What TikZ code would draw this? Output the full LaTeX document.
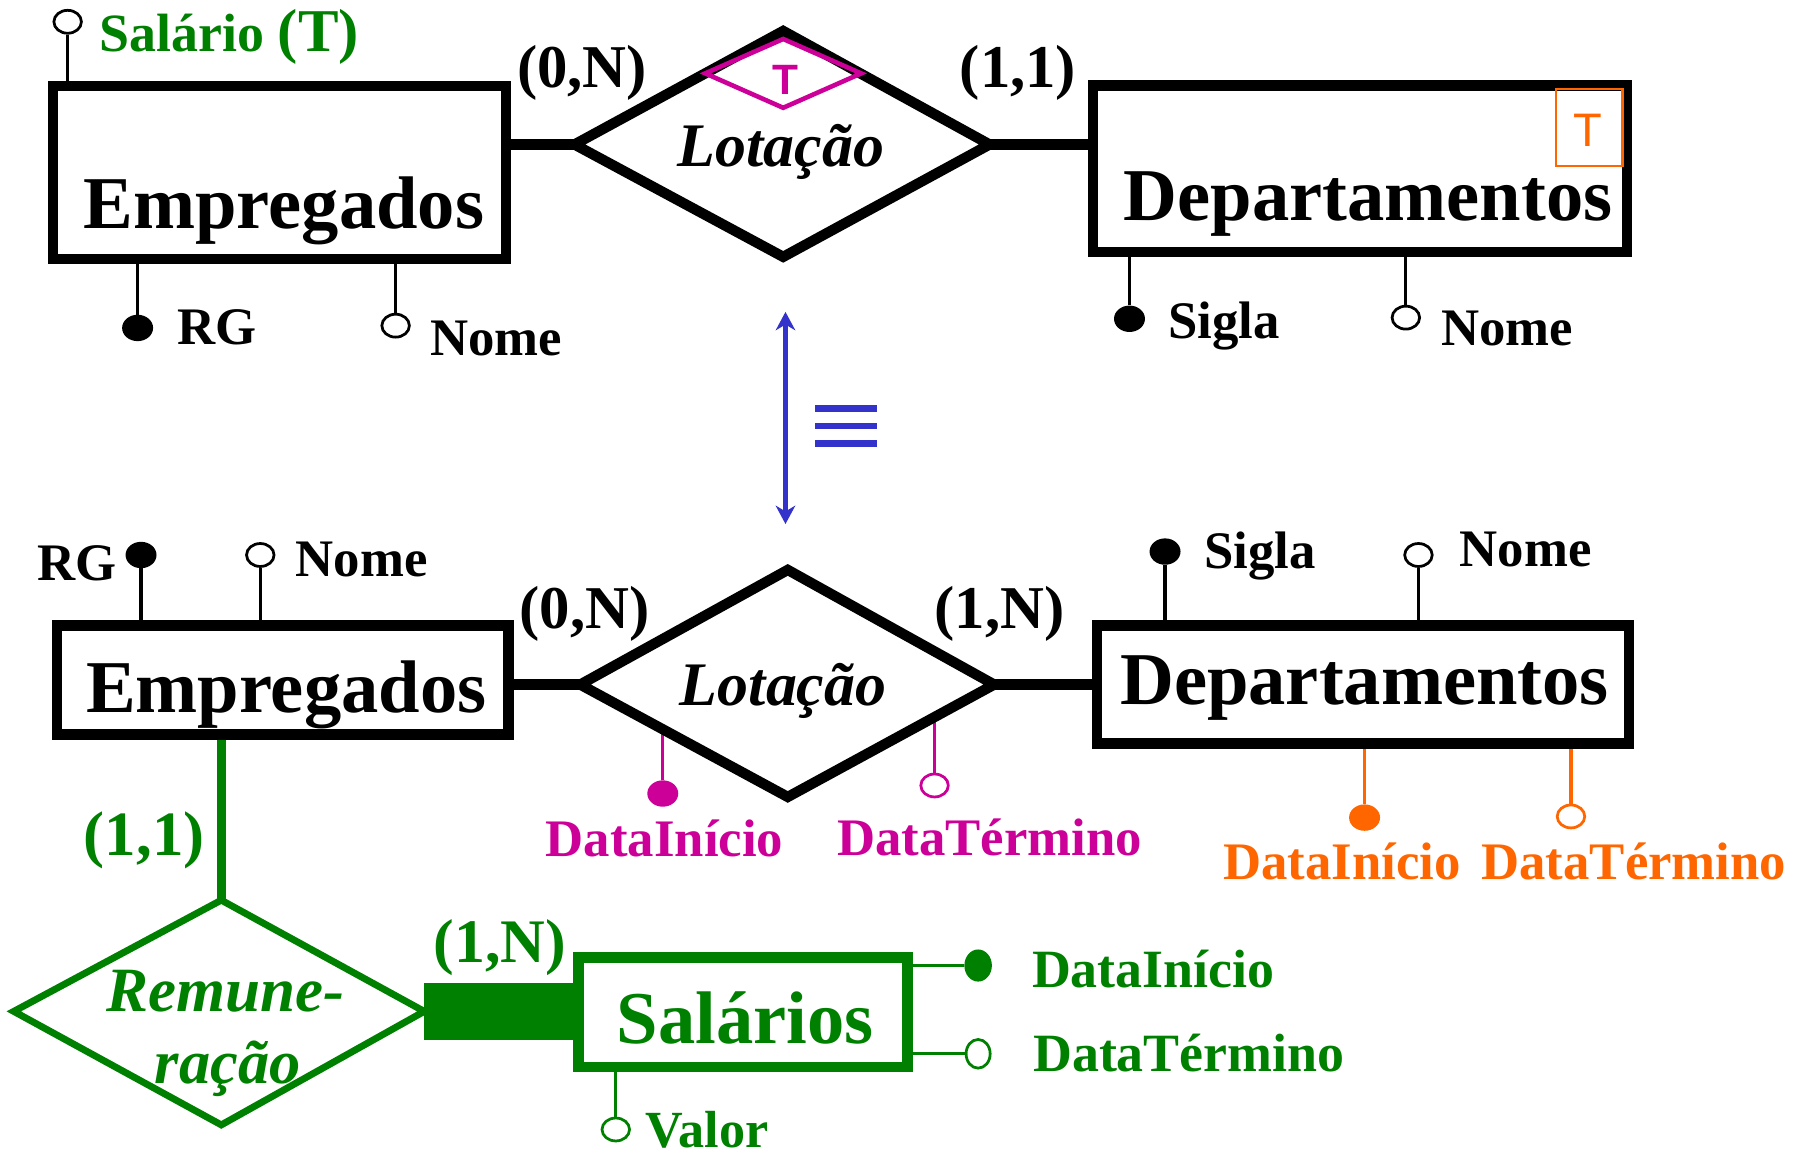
\documentclass[tikz,border=0pt]{standalone}
\usepackage{fontspec}
\setmainfont{Liberation Serif}
\newfontfamily\arialf{Liberation Sans}
\usetikzlibrary{shapes.geometric,arrows.meta}
\definecolor{erGreen}{RGB}{0,128,0}
\definecolor{erMag}{RGB}{204,0,153}
\definecolor{erOra}{RGB}{255,102,0}
\definecolor{erBlue}{RGB}{51,51,204}
\newcommand{\myfs}[1]{\fontsize{#1}{#1}\selectfont}
\tikzset{
  entbox/.style={draw, rectangle, line width=9pt, inner sep=0pt},
  relline/.style={line width=9pt},
  lbl/.style={anchor=base west, inner sep=0pt, outer sep=0pt},
  attrline/.style={line width=2.8pt},
  fdot/.style={ellipse, fill, inner sep=0pt, minimum width=27pt, minimum height=23pt},
  odot/.style={ellipse, draw, fill=white, line width=2.4pt, inner sep=0pt, minimum width=24pt, minimum height=20pt},
  fdotg/.style={ellipse, fill=erGreen, inner sep=0pt, minimum width=24pt, minimum height=28pt},
  odotg/.style={ellipse, draw=erGreen, fill=white, line width=2.4pt, inner sep=0pt, minimum width=21pt, minimum height=25pt},
  attrtxt/.style={lbl, font=\bfseries\myfs{46}},
  cardtxt/.style={lbl, font=\bfseries\myfs{53}},
  enttxt/.style={lbl, font=\bfseries\myfs{65}},
  reltxt/.style={lbl, font=\bfseries\itshape\myfs{54}},
}
\begin{document}
\begin{tikzpicture}[x=1pt,y=-1pt]
\useasboundingbox (0,0) rectangle (1568,1009);

% ================= TOP =================
\node[odot] (aSal) at (59,19) {};
\node[fdot] (aRG1) at (120,286) {};
\node[odot] (aNo1) at (345,284) {};
\node[fdot] (aSi1) at (985,278) {};
\node[odot] (aNo2) at (1226,277) {};

\node[entbox, minimum width=395pt, minimum height=151pt] (E1) at (243.5,150.5) {};
\node[entbox, minimum width=466pt, minimum height=145pt] (D1) at (1186,147) {};

\draw[attrline] (aSal.south) -- (aSal.south |- E1.north);
\draw[attrline] (aRG1.north) -- (aRG1.north |- E1.south);
\draw[attrline] (aNo1.north) -- (aNo1.north |- E1.south);
\draw[attrline] (aSi1.north) -- (aSi1.north |- D1.south);
\draw[attrline] (aNo2.north) -- (aNo2.north |- D1.south);

\coordinate (L1w) at (501,126);
\coordinate (L1n) at (683,27);
\coordinate (L1e) at (863,126);
\coordinate (L1s) at (683,224);
\draw[relline] (L1w) -- (L1n) -- (L1e) -- (L1s) -- cycle;
\draw[relline] (E1.east |- L1w) -- (L1w);
\draw[relline] (L1e) -- (D1.west |- L1e);

\coordinate (M1w) at (615,64);
\coordinate (M1n) at (683,34);
\coordinate (M1e) at (751,64);
\coordinate (M1s) at (683,94);
\draw[erMag, line width=4pt] (M1w) -- (M1n) -- (M1e) -- (M1s) -- cycle;
\node[anchor=base, inner sep=0pt, text=erMag, font=\arialf\bfseries\myfs{37}] (tT1) at (685,82) {T};

\node[draw=erOra, line width=2pt, minimum width=58pt, minimum height=67pt, inner sep=0pt] (tBox) at (1386,111) {};
\node[anchor=base, inner sep=0pt, text=erOra, font=\arialf\myfs{41}] (tT2) at (1385,128) {T};

\node[enttxt] (tE1) at (73,199) {Empregados};
\node[enttxt] (tD1) at (980,192) {Departamentos};
\node[reltxt] (tL1) at (591,145) {Lotação};
\node[cardtxt] (c1) at (451,76) {(0,N)};
\node[cardtxt] (c2) at (837,76) {(1,1)};
\node[lbl, text=erGreen, font=\bfseries] (tSal) at (87,45) {\myfs{47}Salário \myfs{53}(T)};
\node[attrtxt] (tRG1) at (155,300) {RG};
\node[attrtxt] (tNo1) at (375,310) {Nome};
\node[attrtxt] (tSi1) at (1019,295) {Sigla};
\node[attrtxt] (tNo2) at (1257,301) {Nome};

% ================= MIDDLE =================
\coordinate (arrTop) at (685,272);
\coordinate (arrBot) at (685,457);
\draw[erBlue, line width=5pt, {Stealth[length=16pt,width=17pt,inset=5pt]}-{Stealth[length=16pt,width=17pt,inset=5pt]}] (arrTop) -- (arrBot);
\draw[erBlue, line width=6pt] (711,356) -- (765,356);
\draw[erBlue, line width=6pt] (711,371.5) -- (765,371.5);
\draw[erBlue, line width=6pt] (711,387) -- (765,387);

% ================= BOTTOM =================
\node[fdot] (bRG) at (123,484) {};
\node[odot] (bNo1) at (227,484) {};
\node[fdot] (bSi) at (1016,481) {};
\node[odot] (bNo2) at (1237,484) {};
\node[fdot, fill=erMag] (mDI) at (578,692) {};
\node[odot, draw=erMag] (mDT) at (815,685) {};
\node[fdot, fill=erOra] (oDI) at (1190,713) {};
\node[odot, draw=erOra] (oDT) at (1370,712) {};

\node[entbox, minimum width=394pt, minimum height=95pt] (E2) at (246.5,593) {};
\node[entbox, minimum width=464pt, minimum height=103pt] (D2) at (1188.5,597) {};
\node[entbox, draw=erGreen, minimum width=287pt, minimum height=95.5pt] (S) at (648,882.75) {};

\draw[attrline] (bRG.south) -- (bRG.south |- E2.north);
\draw[attrline] (bNo1.south) -- (bNo1.south |- E2.north);
\draw[attrline] (bSi.south) -- (bSi.south |- D2.north);
\draw[attrline] (bNo2.south) -- (bNo2.south |- D2.north);
\draw[attrline, erOra] (oDI.north) -- (oDI.north |- D2.south);
\draw[attrline, erOra] (oDT.north) -- (oDT.north |- D2.south);

\coordinate (L2w) at (506,597);
\coordinate (L2n) at (687,497);
\coordinate (L2e) at (867,597);
\coordinate (L2s) at (687,695);
\coordinate (mDIe) at (578,634);
\coordinate (mDTe) at (815,625);
\draw[attrline, erMag] (mDI.north) -- (mDIe);
\draw[attrline, erMag] (mDT.north) -- (mDTe);
\draw[relline] (L2w) -- (L2n) -- (L2e) -- (L2s) -- cycle;
\draw[relline] (E2.east |- L2w) -- (L2w);
\draw[relline] (L2e) -- (D2.west |- L2e);

\node[enttxt] (tE2) at (75,621) {Empregados};
\node[enttxt] (tD2) at (977,614) {Departamentos};
\node[reltxt] (tL2) at (593,615) {Lotação};
\node[cardtxt] (c3) at (453,548) {(0,N)};
\node[cardtxt] (c4) at (815,548) {(1,N)};
\node[attrtxt] (tRG2) at (33,506) {RG};
\node[attrtxt] (tNo3) at (258,503) {Nome};
\node[attrtxt] (tSi2) at (1050,496) {Sigla};
\node[attrtxt] (tNo4) at (1273,494) {Nome};
\node[attrtxt, text=erMag] (tmDI) at (476,747) {DataInício};
\node[attrtxt, text=erMag] (tmDT) at (730,746) {DataTérmino};
\node[attrtxt, text=erOra] (toDI) at (1067,767) {DataInício};
\node[attrtxt, text=erOra] (toDT) at (1292,767) {DataTérmino};

% ================= GREEN =================
\coordinate (Rw) at (12,882);
\coordinate (Rn) at (193,785);
\coordinate (Re) at (370,882);
\coordinate (Rs) at (193,981);
\draw[erGreen, line width=8pt] (E2.south -| Rn) -- (Rn);
\draw[erGreen, line width=6pt] (Rw) -- (Rn) -- (Re) -- (Rs) -- cycle;
\draw[erGreen, line width=50pt] (Re) -- (S.west |- Re);

\node[fdotg] (gDI) at (853,842) {};
\node[odotg] (gDT) at (853,919) {};
\node[odot, draw=erGreen] (gV) at (537,985) {};
\draw[attrline, erGreen] (S.east |- gDI) -- (gDI.west);
\draw[attrline, erGreen] (S.east |- gDT) -- (gDT.west);
\draw[attrline, erGreen] (gV.north) -- (gV.north |- S.south);

\node[lbl, text=erGreen, font=\bfseries\myfs{55}] (g11) at (73,746) {(1,1)};
\node[lbl, text=erGreen, font=\bfseries\myfs{54}] (g1N) at (378,839) {(1,N)};
\node[lbl, text=erGreen, font=\bfseries\itshape\myfs{55}] (tRem1) at (93,882) {Remune-};
\node[lbl, text=erGreen, font=\bfseries\itshape\myfs{54.5}] (tRem2) at (135,945) {ração};
\node[enttxt, text=erGreen] (tS) at (538,910) {Salários};
\node[lbl, text=erGreen, font=\bfseries\myfs{47}] (tgDI) at (900,861) {DataInício};
\node[lbl, text=erGreen, font=\bfseries\myfs{47}] (tgDT) at (901,934) {DataTérmino};
\node[lbl, text=erGreen, font=\bfseries\myfs{45.5}] (tgV) at (563,1001) {Valor};
\end{tikzpicture}
\end{document}
